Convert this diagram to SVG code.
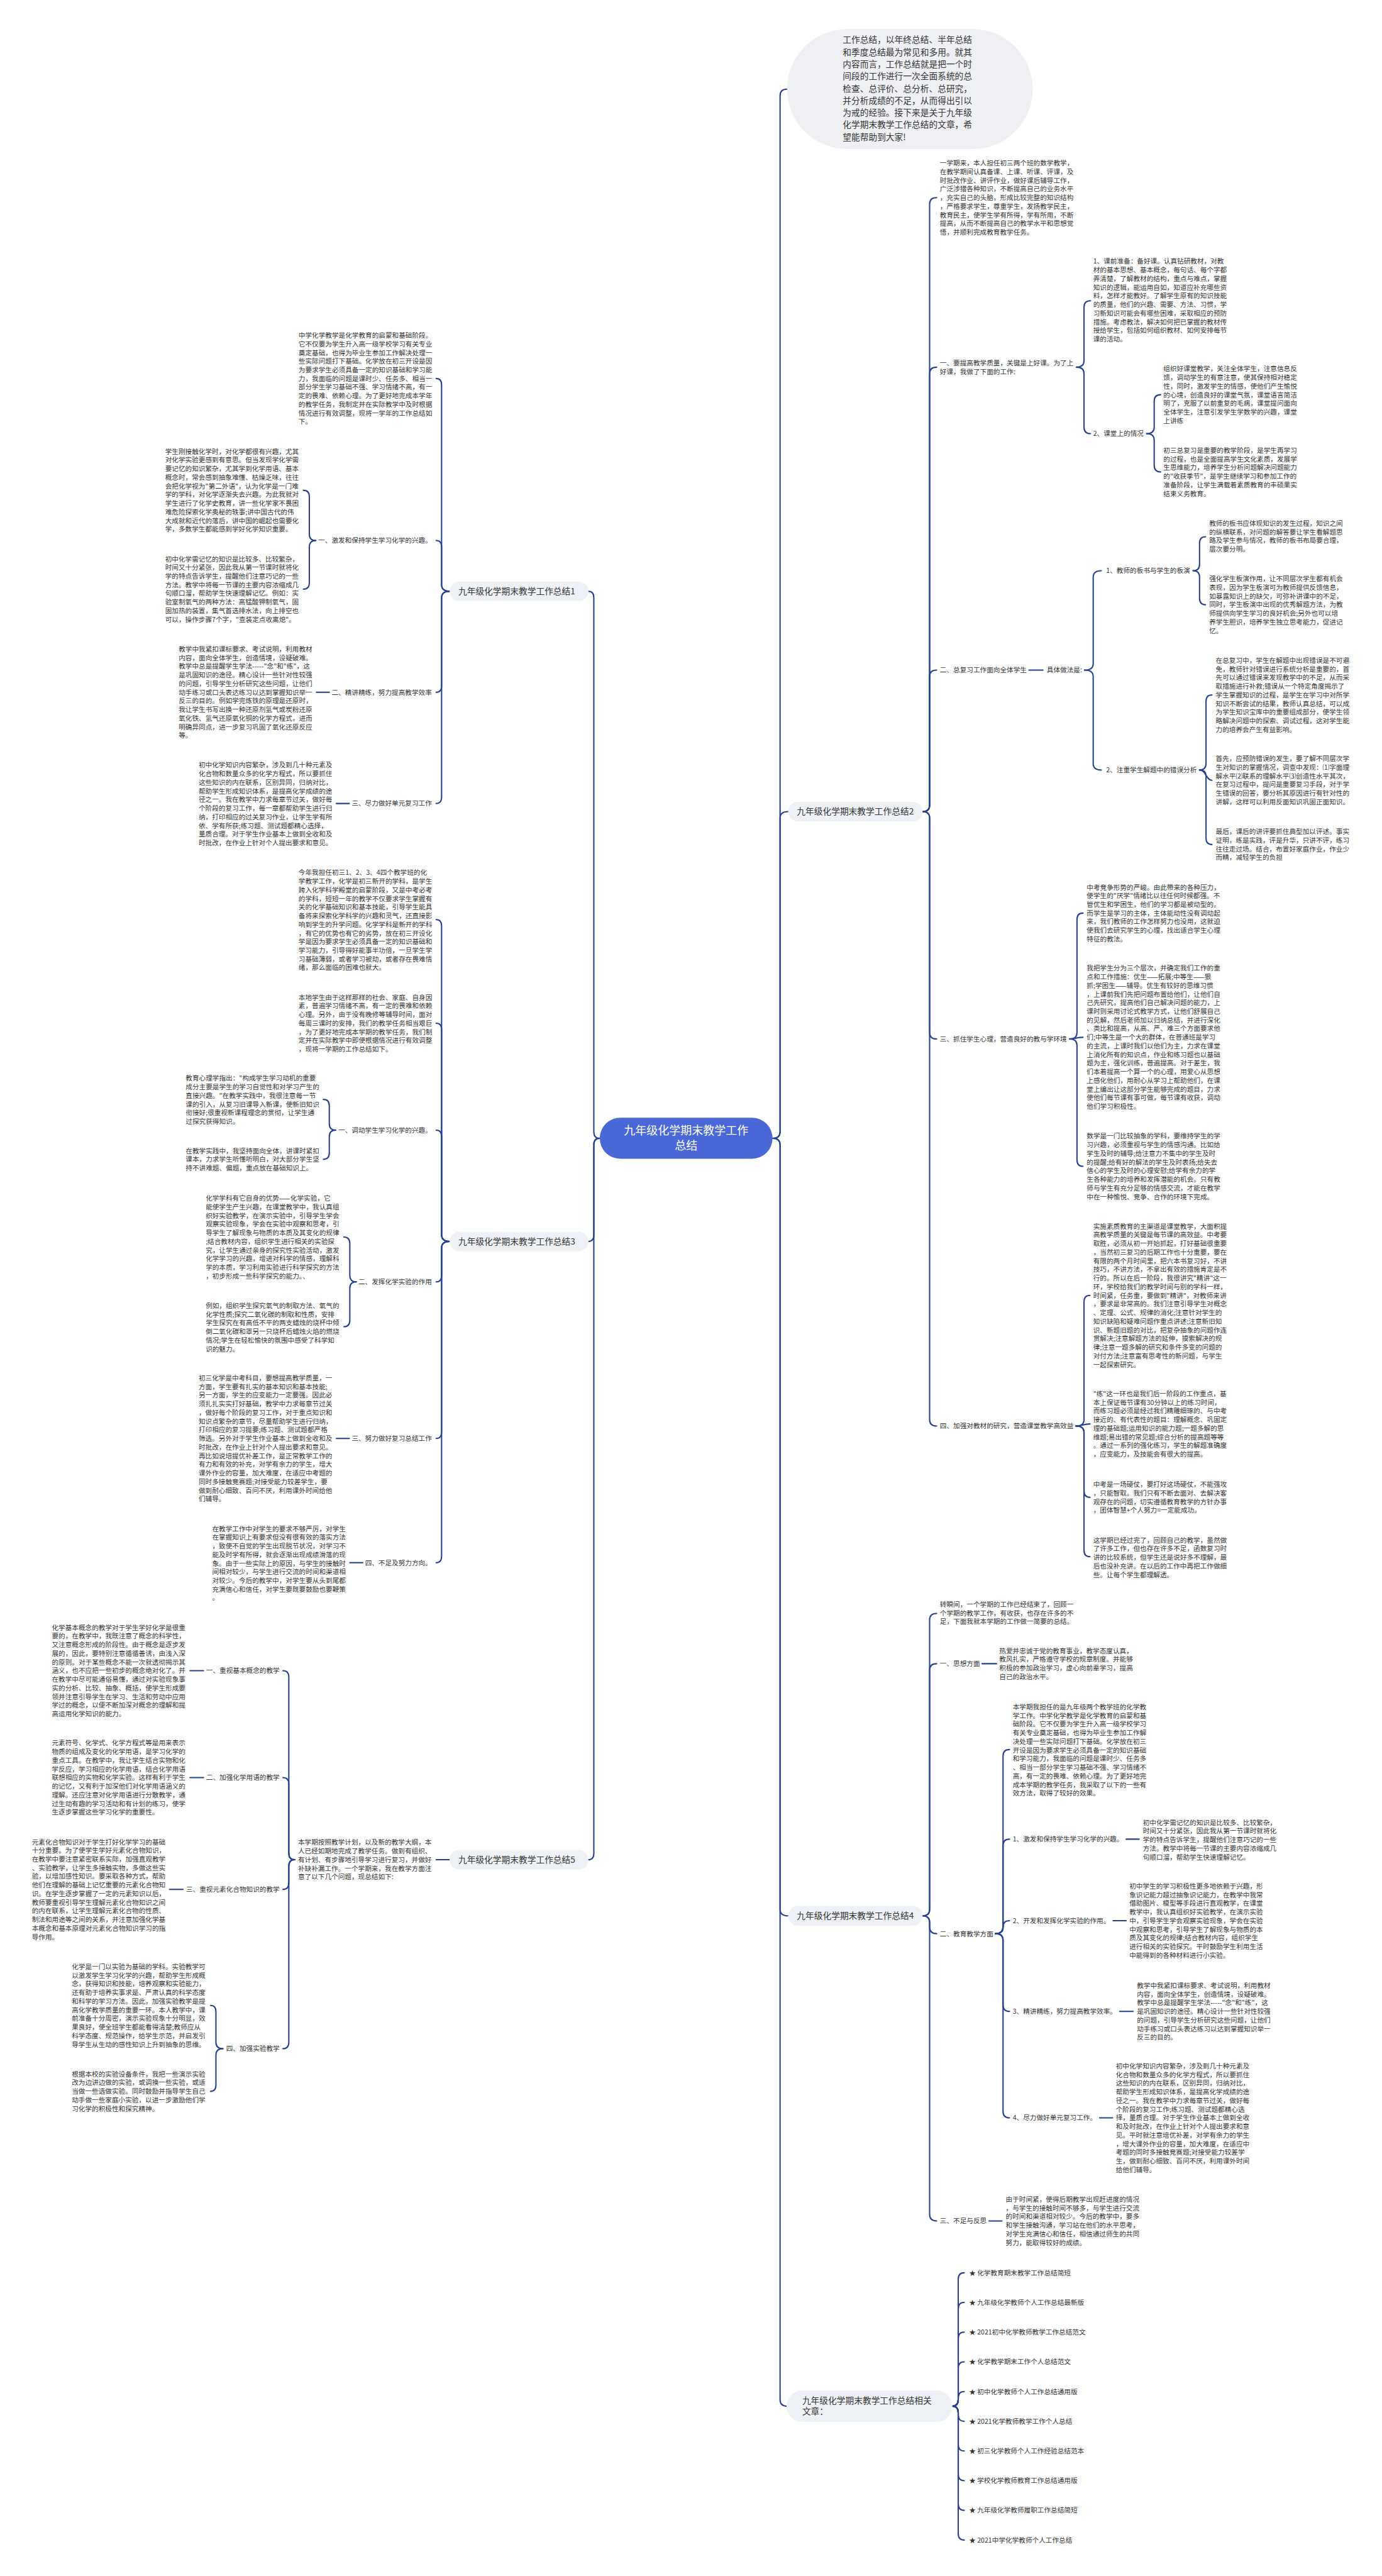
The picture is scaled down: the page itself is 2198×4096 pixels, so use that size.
<svg xmlns="http://www.w3.org/2000/svg" width="2198" height="4096" viewBox="0 0 2198 4096">
<style>
.t{font-family:"Noto Sans CJK SC","Liberation Sans",sans-serif;font-size:12.4px;fill:#333}
.lb{font-family:"Noto Sans CJK SC","Liberation Sans",sans-serif;font-size:16px;fill:#333}
.ct{font-family:"Noto Sans CJK SC","Liberation Sans",sans-serif;font-size:21px;fill:#fff}
.box{fill:#eef1f6}
.c path{fill:none;stroke:#25408f;stroke-width:2.4;stroke-linecap:round}
</style>
<rect width="2198" height="4096" fill="#fff"/>
<g transform="scale(0.8586)">
<g class="c" id="connectors">
<path d="M1111 2108 Q1100 2108 1100 2096 L1100 1107 Q1100 1095 1090 1095"/>
<path d="M1111 2108 Q1100 2108 1100 2120 L1100 2287 Q1100 2299 1090 2299"/>
<path d="M1111 2108 Q1100 2108 1100 2120 L1100 3432 Q1100 3444 1090 3444"/>
<path d="M1431 2108 Q1445 2108 1445 2096 L1445 177 Q1445 165 1458 165"/>
<path d="M1431 2108 Q1445 2108 1445 2096 L1445 1515 Q1445 1503 1460 1503"/>
<path d="M1431 2108 Q1445 2108 1445 2120 L1445 3536 Q1445 3548 1460 3548"/>
<path d="M1431 2108 Q1445 2108 1445 2120 L1445 4444 Q1445 4456 1457 4456"/>
<path d="M1709 1503 Q1722 1503 1722 1491 L1722 378 Q1722 366 1735 366"/>
<path d="M1709 1503 Q1722 1503 1722 1491 L1722 692 Q1722 680 1735 680"/>
<path d="M1709 1503 Q1722 1503 1722 1491 L1722 1253 Q1722 1241 1735 1241"/>
<path d="M1709 1503 Q1722 1503 1722 1515 L1722 1912 Q1722 1924 1735 1924"/>
<path d="M1709 1503 Q1722 1503 1722 1515 L1722 2629 Q1722 2641 1735 2641"/>
<path d="M1994 680 Q2008 680 2008 668 L2008 569 Q2008 557 2020 557"/>
<path d="M1994 680 Q2008 680 2008 692 L2008 791 Q2008 803 2020 803"/>
<path d="M2124 803 Q2138 803 2138 791 L2138 743 Q2138 731 2150 731"/>
<path d="M2124 803 Q2138 803 2138 815 L2138 862 Q2138 874 2150 874"/>
<path d="M1906 1241 L1932 1241"/>
<path d="M2009 1241 Q2025 1241 2025 1229 L2025 1069 Q2025 1057 2040 1057"/>
<path d="M2009 1241 Q2025 1241 2025 1253 L2025 1414 Q2025 1426 2040 1426"/>
<path d="M2210 1057 Q2222 1057 2222 1045 L2222 1006 Q2222 994 2233 994"/>
<path d="M2210 1057 Q2222 1057 2222 1069 L2222 1108 Q2222 1120 2233 1120"/>
<path d="M2222 1426 Q2234 1426 2234 1414 L2234 1299 Q2234 1287 2245 1287"/>
<path d="M2222 1426 C2234 1426 2234 1445 2245 1445"/>
<path d="M2222 1426 Q2234 1426 2234 1438 L2234 1552 Q2234 1564 2245 1564"/>
<path d="M1981 1924 Q1995 1924 1995 1912 L1995 1703 Q1995 1691 2006 1691"/>
<path d="M1981 1924 C1994 1924 1994 1921 2006 1921"/>
<path d="M1981 1924 Q1995 1924 1995 1936 L1995 2148 Q1995 2160 2006 2160"/>
<path d="M1993 2641 Q2008 2641 2008 2629 L2008 2411 Q2008 2399 2019 2399"/>
<path d="M1993 2641 C2006 2641 2006 2637 2019 2637"/>
<path d="M1993 2641 Q2008 2641 2008 2653 L2008 2761 Q2008 2773 2019 2773"/>
<path d="M1993 2641 Q2008 2641 2008 2653 L2008 2871 Q2008 2883 2019 2883"/>
<path d="M1709 3548 Q1722 3548 1722 3536 L1722 3000 Q1722 2988 1735 2988"/>
<path d="M1709 3548 Q1722 3548 1722 3536 L1722 3093 Q1722 3081 1735 3081"/>
<path d="M1709 3548 Q1722 3548 1722 3560 L1722 3569 Q1722 3581 1735 3581"/>
<path d="M1709 3548 Q1722 3548 1722 3560 L1722 4101 Q1722 4113 1735 4113"/>
<path d="M1819 3081 L1846 3081"/>
<path d="M1844 3581 Q1858 3581 1858 3569 L1858 3252 Q1858 3240 1870 3240"/>
<path d="M1844 3581 Q1858 3581 1858 3569 L1858 3418 Q1858 3406 1870 3406"/>
<path d="M1844 3581 Q1858 3581 1858 3569 Q1858 3557 1870 3557"/>
<path d="M1844 3581 Q1858 3581 1858 3593 L1858 3713 Q1858 3725 1870 3725"/>
<path d="M1844 3581 Q1858 3581 1858 3593 L1858 3910 Q1858 3922 1870 3922"/>
<path d="M2086 3406 L2110 3406"/>
<path d="M2062 3557 L2086 3557"/>
<path d="M2074 3725 L2099 3725"/>
<path d="M2037 3922 L2061 3922"/>
<path d="M1832 4113 L1856 4113"/>
<path d="M1764 4456 Q1775 4456 1775 4444 L1775 4221 Q1775 4209 1786 4209"/>
<path d="M1764 4456 Q1775 4456 1775 4444 L1775 4276 Q1775 4264 1786 4264"/>
<path d="M1764 4456 Q1775 4456 1775 4444 L1775 4331 Q1775 4319 1786 4319"/>
<path d="M1764 4456 Q1775 4456 1775 4444 L1775 4386 Q1775 4374 1786 4374"/>
<path d="M1764 4456 Q1775 4456 1775 4444 L1775 4441 Q1775 4429 1786 4429"/>
<path d="M1764 4456 Q1775 4456 1775 4468 L1775 4472 Q1775 4484 1786 4484"/>
<path d="M1764 4456 Q1775 4456 1775 4468 L1775 4527 Q1775 4539 1786 4539"/>
<path d="M1764 4456 Q1775 4456 1775 4468 L1775 4582 Q1775 4594 1786 4594"/>
<path d="M1764 4456 Q1775 4456 1775 4468 L1775 4637 Q1775 4649 1786 4649"/>
<path d="M1764 4456 Q1775 4456 1775 4468 L1775 4692 Q1775 4704 1786 4704"/>
<path d="M833 1095 Q818 1095 818 1083 L818 713 Q818 701 808 701"/>
<path d="M833 1095 Q818 1095 818 1083 L818 1013 Q818 1001 808 1001"/>
<path d="M833 1095 Q818 1095 818 1107 L818 1270 Q818 1282 808 1282"/>
<path d="M833 1095 Q818 1095 818 1107 L818 1476 Q818 1488 808 1488"/>
<path d="M585 1001 Q573 1001 573 989 L573 920 Q573 908 562 908"/>
<path d="M585 1001 Q573 1001 573 1013 L573 1079 Q573 1091 562 1091"/>
<path d="M610 1282 L586 1282"/>
<path d="M647 1488 L623 1488"/>
<path d="M833 2299 Q818 2299 818 2287 L818 1715 Q818 1703 808 1703"/>
<path d="M833 2299 Q818 2299 818 2287 L818 1907 Q818 1895 808 1895"/>
<path d="M833 2299 Q818 2299 818 2287 L818 2105 Q818 2093 808 2093"/>
<path d="M833 2299 Q818 2299 818 2311 L818 2362 Q818 2374 808 2374"/>
<path d="M833 2299 Q818 2299 818 2311 L818 2652 Q818 2664 808 2664"/>
<path d="M833 2299 Q818 2299 818 2311 L818 2882 Q818 2894 808 2894"/>
<path d="M622 2093 Q610 2093 610 2081 L610 2048 Q610 2036 599 2036"/>
<path d="M622 2093 Q610 2093 610 2105 L610 2135 Q610 2147 599 2147"/>
<path d="M660 2374 Q648 2374 648 2362 L648 2303 Q648 2291 637 2291"/>
<path d="M660 2374 Q648 2374 648 2386 L648 2445 Q648 2457 637 2457"/>
<path d="M647 2664 L623 2664"/>
<path d="M672 2894 L648 2894"/>
<path d="M833 3444 L808 3444"/>
<path d="M546 3444 Q535 3444 535 3432 L535 3106 Q535 3094 524 3094"/>
<path d="M546 3444 Q535 3444 535 3432 L535 3304 Q535 3292 524 3292"/>
<path d="M546 3444 Q535 3444 535 3456 L535 3487 Q535 3499 524 3499"/>
<path d="M546 3444 Q535 3444 535 3456 L535 3782 Q535 3794 524 3794"/>
<path d="M377 3094 L352 3094"/>
<path d="M377 3292 L352 3292"/>
<path d="M339 3499 L314 3499"/>
<path d="M413 3794 Q400 3794 400 3782 L400 3726 Q400 3714 390 3714"/>
<path d="M413 3794 Q400 3794 400 3806 L400 3861 Q400 3873 390 3873"/>
</g>

<g id="center">
<rect x="1111" y="2070" width="320" height="76" rx="38" fill="#4a67d8"/>
<text class="ct" x="1271" y="2101" text-anchor="middle">九年级化学期末教学工作</text>
<text class="ct" x="1271" y="2129" text-anchor="middle">总结</text>
</g>

<g id="intro">
<rect x="1458" y="54" width="455" height="222" rx="111" fill="#eef0f4"/>
<text class="lb" x="1561" y="79.5"><tspan x="1561">工作总结，以年终总结、半年总结</tspan><tspan x="1561" dy="22.5">和季度总结最为常见和多用。就其</tspan><tspan x="1561" dy="22.5">内容而言，工作总结就是把一个时</tspan><tspan x="1561" dy="22.5">间段的工作进行一次全面系统的总</tspan><tspan x="1561" dy="22.5">检查、总评价、总分析、总研究，</tspan><tspan x="1561" dy="22.5">并分析成绩的不足，从而得出引以</tspan><tspan x="1561" dy="22.5">为戒的经验。接下来是关于九年级</tspan><tspan x="1561" dy="22.5">化学期末教学工作总结的文章，希</tspan><tspan x="1561" dy="22.5">望能帮助到大家!</tspan></text>
</g>

<g id="b1">
<rect class="box" x="833" y="1077" width="257" height="36" rx="18"/>
<text class="lb" x="849" y="1100.5">九年级化学期末教学工作总结1</text>
</g>
<g id="b1-intro"><text class="t" x="553" y="625.5"><tspan x="553">中学化学教学是化学教育的启蒙和基础阶段。</tspan><tspan x="553" dy="16">它不仅要为学生升入高一级学校学习有关专业</tspan><tspan x="553" dy="16">奠定基础，也得为毕业生参加工作解决处理一</tspan><tspan x="553" dy="16">些实际问题打下基础。化学放在初三开设是因</tspan><tspan x="553" dy="16">为要求学生必须具备一定的知识基础和学习能</tspan><tspan x="553" dy="16">力，我面临的问题是课时少、任务多、相当一</tspan><tspan x="553" dy="16">部分学生学习基础不强、学习情绪不高，有一</tspan><tspan x="553" dy="16">定的畏难、依赖心理。为了更好地完成本学年</tspan><tspan x="553" dy="16">的教学任务，我制定并在实际教学中及时根据</tspan><tspan x="553" dy="16">情况进行有效调整，现将一学年的工作总结如</tspan><tspan x="553" dy="16">下。</tspan></text></g>
<g id="b1-1"><text class="t" x="800" y="1005.5" text-anchor="end">一、激发和保持学生学习化学的兴趣。</text></g>
<g id="b1-1a"><text class="t" x="306" y="840.5"><tspan x="306">学生刚接触化学时，对化学都很有兴趣，尤其</tspan><tspan x="306" dy="16">对化学实验更感到有意思。但当发现学化学需</tspan><tspan x="306" dy="16">要记忆的知识繁杂，尤其学到化学用语、基本</tspan><tspan x="306" dy="16">概念时，常会感到抽象难懂、枯燥乏味，往往</tspan><tspan x="306" dy="16">会把化学视为"第二外语"，认为化学是一门难</tspan><tspan x="306" dy="16">学的学科，对化学逐渐失去兴趣。为此我就对</tspan><tspan x="306" dy="16">学生进行了化学史教育，讲一些化学家不畏困</tspan><tspan x="306" dy="16">难危险探索化学奥秘的轶事;讲中国古代的伟</tspan><tspan x="306" dy="16">大成就和近代的落后，讲中国的崛起也需要化</tspan><tspan x="306" dy="16">学，多数学生都能感到学好化学知识重要。</tspan></text></g>
<g id="b1-1b"><text class="t" x="306" y="1039.5"><tspan x="306">初中化学需记忆的知识是比较多、比较繁杂，</tspan><tspan x="306" dy="16">时间又十分紧张，因此我从第一节课时就将化</tspan><tspan x="306" dy="16">学的特点告诉学生，提醒他们注意巧记的一些</tspan><tspan x="306" dy="16">方法。教学中将每一节课的主要内容浓缩成几</tspan><tspan x="306" dy="16">句顺口溜，帮助学生快速理解记忆。例如：实</tspan><tspan x="306" dy="16">验室制氧气的两种方法：高锰酸钾制氧气，固</tspan><tspan x="306" dy="16">固加热的装置，集气首选排水法，向上排空也</tspan><tspan x="306" dy="16">可以，操作步骤7个字，"查装定点收离熄"。</tspan></text></g>
<g id="b1-2"><text class="t" x="800" y="1286.5" text-anchor="end">二、精讲精练，努力提高教学效率</text></g>
<g id="b1-2a"><text class="t" x="331" y="1206.5"><tspan x="331">教学中我紧扣课标要求、考试说明，利用教材</tspan><tspan x="331" dy="16">内容，面向全体学生，创造情境，设疑破难。</tspan><tspan x="331" dy="16">教学中总是提醒学生学法-----"念"和"练"，这</tspan><tspan x="331" dy="16">是巩固知识的途径。精心设计一些针对性较强</tspan><tspan x="331" dy="16">的问题，引导学生分析研究这些问题，让他们</tspan><tspan x="331" dy="16">动手练习或口头表达练习以达到掌握知识举一</tspan><tspan x="331" dy="16">反三的目的。例如学完炼铁的原理是还原时，</tspan><tspan x="331" dy="16">我让学生书写出换一种还原剂氢气或炭粉还原</tspan><tspan x="331" dy="16">氧化铁、氢气还原氧化铜的化学方程式，进而</tspan><tspan x="331" dy="16">明确异同点，进一步复习巩固了氧化还原反应</tspan><tspan x="331" dy="16">等。</tspan></text></g>
<g id="b1-3"><text class="t" x="800" y="1492.5" text-anchor="end">三、尽力做好单元复习工作</text></g>
<g id="b1-3a"><text class="t" x="368" y="1421.5"><tspan x="368">初中化学知识内容繁杂，涉及到几十种元素及</tspan><tspan x="368" dy="16">化合物和数量众多的化学方程式，所以要抓住</tspan><tspan x="368" dy="16">这些知识的内在联系，区别异同，归纳对比，</tspan><tspan x="368" dy="16">帮助学生形成知识体系，是提高化学成绩的途</tspan><tspan x="368" dy="16">径之一。我在教学中力求每章节过关，做好每</tspan><tspan x="368" dy="16">个阶段的复习工作，每一章都帮助学生进行归</tspan><tspan x="368" dy="16">纳，打印相应的过关复习作业，让学生学有所</tspan><tspan x="368" dy="16">依、学有所获;练习题、测试题都精心选择，</tspan><tspan x="368" dy="16">量质合理。对于学生作业基本上做到全收和及</tspan><tspan x="368" dy="16">时批改，在作业上针对个人提出要求和意见。</tspan></text></g>

<g id="b3">
<rect class="box" x="833" y="2281" width="257" height="36" rx="18"/>
<text class="lb" x="849" y="2304.5">九年级化学期末教学工作总结3</text>
</g>
<g id="b3-i1"><text class="t" x="553" y="1620.5"><tspan x="553">今年我担任初三1、2、3、4四个教学班的化</tspan><tspan x="553" dy="16">学教学工作，化学是初三新开的学科，是学生</tspan><tspan x="553" dy="16">跨入化学科学殿堂的启蒙阶段，又是中考必考</tspan><tspan x="553" dy="16">的学科，短短一年的教学不仅要求学生掌握有</tspan><tspan x="553" dy="16">关的化学基础知识和基本技能，引导学生能具</tspan><tspan x="553" dy="16">备将来探索化学科学的兴趣和灵气，还直接影</tspan><tspan x="553" dy="16">响到学生的升学问题。化学学科是新开的学科</tspan><tspan x="553" dy="16">，有它的优势也有它的劣势，放在初三开设化</tspan><tspan x="553" dy="16">学是因为要求学生必须具备一定的知识基础和</tspan><tspan x="553" dy="16">学习能力，引导得好能事半功倍，一旦学生学</tspan><tspan x="553" dy="16">习基础薄弱，或者学习被动，或者存在畏难情</tspan><tspan x="553" dy="16">绪，那么面临的困难也就大。</tspan></text></g>
<g id="b3-i2"><text class="t" x="553" y="1851.5"><tspan x="553">本地学生由于这样那样的社会、家庭、自身因</tspan><tspan x="553" dy="16">素，普遍学习情绪不高，有一定的畏难和依赖</tspan><tspan x="553" dy="16">心理。另外，由于没有晚修等辅导时间，面对</tspan><tspan x="553" dy="16">每周三课时的安排，我们的教学任务相当艰巨</tspan><tspan x="553" dy="16">，为了更好地完成本学期的教学任务，我们制</tspan><tspan x="553" dy="16">定并在实际教学中即使根据情况进行有效调整</tspan><tspan x="553" dy="16">，现将一学期的工作总结如下。</tspan></text></g>
<g id="b3-1"><text class="t" x="800" y="2097.5" text-anchor="end">一、调动学生学习化学的兴趣。</text></g>
<g id="b3-1a"><text class="t" x="344" y="2001.5"><tspan x="344">教育心理学指出："构成学生学习动机的重要</tspan><tspan x="344" dy="16">成分主要是学生的学习自觉性和对学习产生的</tspan><tspan x="344" dy="16">直接兴趣。"在教学实践中，我很注意每一节</tspan><tspan x="344" dy="16">课的引入，从复习旧课导入新课，使新旧知识</tspan><tspan x="344" dy="16">衔接好;很重视新课程理念的贯彻，让学生通</tspan><tspan x="344" dy="16">过探究获得知识。</tspan></text></g>
<g id="b3-1b"><text class="t" x="344" y="2135.5"><tspan x="344">在教学实践中，我坚持面向全体，讲课时紧扣</tspan><tspan x="344" dy="16">课本，力求学生听懂听明白，对大部分学生坚</tspan><tspan x="344" dy="16">持不讲难题、偏题，重点放在基础知识上。</tspan></text></g>
<g id="b3-2"><text class="t" x="800" y="2378.5" text-anchor="end">二、发挥化学实验的作用</text></g>
<g id="b3-2a"><text class="t" x="381" y="2223.5"><tspan x="381">化学学科有它自身的优势——化学实验，它</tspan><tspan x="381" dy="16">能使学生产生兴趣，在课堂教学中，我认真组</tspan><tspan x="381" dy="16">织好实验教学，在演示实验中，引导学生学会</tspan><tspan x="381" dy="16">观察实验现象，学会在实验中观察和思考，引</tspan><tspan x="381" dy="16">导学生了解现象与物质的本质及其变化的规律</tspan><tspan x="381" dy="16">;结合教材内容，组织学生进行相关的实验探</tspan><tspan x="381" dy="16">究，让学生通过亲身的探究性实验活动，激发</tspan><tspan x="381" dy="16">化学学习的兴趣，增进对科学的情感，理解科</tspan><tspan x="381" dy="16">学的本质，学习利用实验进行科学探究的方法</tspan><tspan x="381" dy="16">，初步形成一些科学探究的能力。、</tspan></text></g>
<g id="b3-2b"><text class="t" x="381" y="2422.5"><tspan x="381">例如，组织学生探究氧气的制取方法、氧气的</tspan><tspan x="381" dy="16">化学性质;探究二氧化碳的制取和性质，安排</tspan><tspan x="381" dy="16">学生探究在有高低不平的两支蜡烛的烧杯中倾</tspan><tspan x="381" dy="16">倒二氧化碳和罩另一只烧杯后蜡烛火焰的燃烧</tspan><tspan x="381" dy="16">情况;学生在轻松愉快的氛围中感受了科学知</tspan><tspan x="381" dy="16">识的魅力。</tspan></text></g>
<g id="b3-3"><text class="t" x="800" y="2668.5" text-anchor="end">三、努力做好复习总结工作</text></g>
<g id="b3-3a"><text class="t" x="368" y="2556.5"><tspan x="368">初三化学是中考科目，要想提高教学质量，一</tspan><tspan x="368" dy="16">方面，学生要有扎实的基本知识和基本技能;</tspan><tspan x="368" dy="16">另一方面，学生的应变能力一定要强。因此必</tspan><tspan x="368" dy="16">须扎扎实实打好基础，教学中力求每章节过关</tspan><tspan x="368" dy="16">，做好每个阶段的复习工作，对于重点知识和</tspan><tspan x="368" dy="16">知识点繁杂的章节，尽量帮助学生进行归纳，</tspan><tspan x="368" dy="16">打印相应的复习提要;练习题、测试题都严格</tspan><tspan x="368" dy="16">筛选。另外对于学生作业基本上做到全收和及</tspan><tspan x="368" dy="16">时批改，在作业上针对个人提出要求和意见。</tspan><tspan x="368" dy="16">再比如说培提优补差工作，是正常教学工作的</tspan><tspan x="368" dy="16">有力和有效的补充，对学有余力的学生，增大</tspan><tspan x="368" dy="16">课外作业的容量，加大难度，在适应中考题的</tspan><tspan x="368" dy="16">同时多接触竞赛题;对接受能力较差学生，要</tspan><tspan x="368" dy="16">做到耐心细致、百问不厌，利用课外时间给他</tspan><tspan x="368" dy="16">们辅导。</tspan></text></g>
<g id="b3-4"><text class="t" x="800" y="2898.5" text-anchor="end">四、不足及努力方向。</text></g>
<g id="b3-4a"><text class="t" x="393" y="2835.5"><tspan x="393">在教学工作中对学生的要求不够严厉，对学生</tspan><tspan x="393" dy="16">在掌握知识上有要求但没有很有效的落实方法</tspan><tspan x="393" dy="16">，致使不自觉的学生出现脱节状况，对学习不</tspan><tspan x="393" dy="16">能及时学有所得，就会逐渐出现成绩滑落的现</tspan><tspan x="393" dy="16">象。由于一些实际上的原因，与学生的接触时</tspan><tspan x="393" dy="16">间相对较少，与学生进行交流的时间和渠道相</tspan><tspan x="393" dy="16">对较少。今后的教学中，对学生要从头到尾都</tspan><tspan x="393" dy="16">充满信心和信任，对学生要既要鼓励也要鞭策</tspan><tspan x="393" dy="16">。</tspan></text></g>

<g id="b5">
<rect class="box" x="833" y="3426" width="257" height="36" rx="18"/>
<text class="lb" x="849" y="3449.5">九年级化学期末教学工作总结5</text>
</g>
<g id="b5-i"><text class="t" x="552" y="3416.5"><tspan x="552">本学期按照教学计划，以及新的教学大纲，本</tspan><tspan x="552" dy="16">人已经如期地完成了教学任务。做到有组织、</tspan><tspan x="552" dy="16">有计划、有步骤地引导学习进行复习，并做好</tspan><tspan x="552" dy="16">补缺补漏工作。一个学期来，我在教学方面注</tspan><tspan x="552" dy="16">意了以下几个问题，现总结如下:</tspan></text></g>
<g id="b5-1"><text class="t" x="518" y="3098.5" text-anchor="end">一、重视基本概念的教学</text></g>
<g id="b5-1a"><text class="t" x="96" y="3018.5"><tspan x="96">化学基本概念的教学对于学生学好化学是很重</tspan><tspan x="96" dy="16">要的，在教学中，我既注意了概念的科学性，</tspan><tspan x="96" dy="16">又注意概念形成的阶段性。由于概念是逐步发</tspan><tspan x="96" dy="16">展的，因此，要特别注意循循善诱，由浅入深</tspan><tspan x="96" dy="16">的原则。对于某些概念不能一次就透彻揭示其</tspan><tspan x="96" dy="16">涵义，也不应把一些初步的概念绝对化了。并</tspan><tspan x="96" dy="16">在教学中尽可能通俗易懂，通过对实验现象事</tspan><tspan x="96" dy="16">实的分析、比较、抽象、概括，使学生形成要</tspan><tspan x="96" dy="16">领并注意引导学生在学习、生活和劳动中应用</tspan><tspan x="96" dy="16">学过的概念，以便不断加深对概念的理解和提</tspan><tspan x="96" dy="16">高运用化学知识的能力。</tspan></text></g>
<g id="b5-2"><text class="t" x="518" y="3296.5" text-anchor="end">二、加强化学用语的教学</text></g>
<g id="b5-2a"><text class="t" x="96" y="3232.5"><tspan x="96">元素符号、化学式、化学方程式等是用来表示</tspan><tspan x="96" dy="16">物质的组成及变化的化学用语，是学习化学的</tspan><tspan x="96" dy="16">重点工具。在教学中，我让学生结合实物和化</tspan><tspan x="96" dy="16">学反应，学习相应的化学用语，结合化学用语</tspan><tspan x="96" dy="16">联想相应的实物和化学实验。这样有利于学生</tspan><tspan x="96" dy="16">的记忆，又有利于加深他们对化学用语涵义的</tspan><tspan x="96" dy="16">理解。还应注意对化学用语进行分散教学，通</tspan><tspan x="96" dy="16">过生动有趣的学习活动和有计划的练习，使学</tspan><tspan x="96" dy="16">生逐步掌握这些学习化学的重要性。</tspan></text></g>
<g id="b5-3"><text class="t" x="518" y="3503.5" text-anchor="end">三、重视元素化合物知识的教学</text></g>
<g id="b5-3a"><text class="t" x="59" y="3415.5"><tspan x="59">元素化合物知识对于学生打好化学学习的基础</tspan><tspan x="59" dy="16">十分重要。为了使学生学好元素化合物知识，</tspan><tspan x="59" dy="16">在教学中要注意紧密联系实际，加强直观教学</tspan><tspan x="59" dy="16">、实验教学，让学生多接触实物，多做这些实</tspan><tspan x="59" dy="16">验，以增加感性知识。要采取各种方式，帮助</tspan><tspan x="59" dy="16">他们在理解的基础上记忆重要的元素化合物知</tspan><tspan x="59" dy="16">识。在学生逐步掌握了一定的元素知识以后，</tspan><tspan x="59" dy="16">教师要重视引导学生理解元素化合物知识之间</tspan><tspan x="59" dy="16">的内在联系，让学生理解元素化合物的性质、</tspan><tspan x="59" dy="16">制法和用途等之间的关系，并注意加强化学基</tspan><tspan x="59" dy="16">本概念和基本原理对元素化合物知识学习的指</tspan><tspan x="59" dy="16">导作用。</tspan></text></g>
<g id="b5-4"><text class="t" x="518" y="3798.5" text-anchor="end">四、加强实验教学</text></g>
<g id="b5-4a"><text class="t" x="133" y="3646.5"><tspan x="133">化学是一门以实验为基础的学科。实验教学可</tspan><tspan x="133" dy="16">以激发学生学习化学的兴趣，帮助学生形成概</tspan><tspan x="133" dy="16">念，获得知识和技能，培养观察和实验能力，</tspan><tspan x="133" dy="16">还有助于培养实事求是、严肃认真的科学态度</tspan><tspan x="133" dy="16">和科学的学习方法。因此，加强实验教学是提</tspan><tspan x="133" dy="16">高化学教学质量的重要一环。本人教学中，课</tspan><tspan x="133" dy="16">前准备十分周密，演示实验现象十分明显，效</tspan><tspan x="133" dy="16">果良好，使全班学生都能看得清楚;教师应从</tspan><tspan x="133" dy="16">科学态度、规范操作，给学生示范，并启发引</tspan><tspan x="133" dy="16">导学生从生动的感性知识上升到抽象的思维。</tspan></text></g>
<g id="b5-4b"><text class="t" x="133" y="3845.5"><tspan x="133">根据本校的实验设备条件，我把一些演示实验</tspan><tspan x="133" dy="16">改为边讲边做的实验，或调换一些实验，或适</tspan><tspan x="133" dy="16">当做一些选做实验。同时鼓励并指导学生自己</tspan><tspan x="133" dy="16">动手做一些家庭小实验，以进一步激励他们学</tspan><tspan x="133" dy="16">习化学的积极性和探究精神。</tspan></text></g>

<g id="b2">
<rect class="box" x="1460" y="1485" width="249" height="36" rx="18"/>
<text class="lb" x="1476" y="1508.5">九年级化学期末教学工作总结2</text>
</g>
<g id="b2-i"><text class="t" x="1741" y="306.5"><tspan x="1741">一学期来，本人担任初三两个班的数学教学，</tspan><tspan x="1741" dy="16">在教学期间认真备课、上课、听课、评课，及</tspan><tspan x="1741" dy="16">时批改作业、讲评作业，做好课后辅导工作，</tspan><tspan x="1741" dy="16">广泛涉猎各种知识，不断提高自己的业务水平</tspan><tspan x="1741" dy="16">，充实自己的头脑，形成比较完整的知识结构</tspan><tspan x="1741" dy="16">，严格要求学生，尊重学生，发扬教学民主，</tspan><tspan x="1741" dy="16">教育民主，使学生学有所得，学有所用，不断</tspan><tspan x="1741" dy="16">提高，从而不断提高自己的教学水平和思想觉</tspan><tspan x="1741" dy="16">悟，并顺利完成教育教学任务。</tspan></text></g>
<g id="b2-1"><text class="t" x="1741" y="676.5"><tspan x="1741">一、要提高教学质量，关键是上好课。为了上</tspan><tspan x="1741" dy="16">好课，我做了下面的工作:</tspan></text></g>
<g id="b2-1a"><text class="t" x="2025" y="488.5"><tspan x="2025">1、课前准备：备好课。认真钻研教材，对教</tspan><tspan x="2025" dy="16">材的基本思想、基本概念，每句话、每个字都</tspan><tspan x="2025" dy="16">弄清楚，了解教材的结构，重点与难点，掌握</tspan><tspan x="2025" dy="16">知识的逻辑，能运用自如，知道应补充哪些资</tspan><tspan x="2025" dy="16">料，怎样才能教好。了解学生原有的知识技能</tspan><tspan x="2025" dy="16">的质量，他们的兴趣、需要、方法、习惯，学</tspan><tspan x="2025" dy="16">习新知识可能会有哪些困难，采取相应的预防</tspan><tspan x="2025" dy="16">措施。考虑教法，解决如何把已掌握的教材传</tspan><tspan x="2025" dy="16">授给学生，包括如何组织教材、如何安排每节</tspan><tspan x="2025" dy="16">课的活动。</tspan></text></g>
<g id="b2-1b"><text class="t" x="2025" y="807.5">2、课堂上的情况</text></g>
<g id="b2-1b1"><text class="t" x="2155" y="687.5"><tspan x="2155">组织好课堂教学，关注全体学生，注意信息反</tspan><tspan x="2155" dy="16">馈，调动学生的有意注意，使其保持相对稳定</tspan><tspan x="2155" dy="16">性，同时，激发学生的情感，使他们产生愉悦</tspan><tspan x="2155" dy="16">的心境，创造良好的课堂气氛，课堂语言简洁</tspan><tspan x="2155" dy="16">明了，克服了以前重复的毛病，课堂提问面向</tspan><tspan x="2155" dy="16">全体学生，注意引发学生学数学的兴趣，课堂</tspan><tspan x="2155" dy="16">上讲练</tspan></text></g>
<g id="b2-1b2"><text class="t" x="2155" y="838.5"><tspan x="2155">初三总复习是重要的教学阶段，是学生再学习</tspan><tspan x="2155" dy="16">的过程，也是全面提高学生文化素质，发展学</tspan><tspan x="2155" dy="16">生思维能力，培养学生分析问题解决问题能力</tspan><tspan x="2155" dy="16">的"收获季节"，是学生继续学习和参加工作的</tspan><tspan x="2155" dy="16">准备阶段，让学生满载着素质教育的丰硕果实</tspan><tspan x="2155" dy="16">结束义务教育。</tspan></text></g>
<g id="b2-2"><text class="t" x="1741" y="1245.5">二、总复习工作面向全体学生</text></g>
<g id="b2-2x"><text class="t" x="1939" y="1245.5">具体做法是:</text></g>
<g id="b2-2a"><text class="t" x="2049" y="1061.5">1、教师的板书与学生的板演</text></g>
<g id="b2-2a1"><text class="t" x="2240" y="973.5"><tspan x="2240">教师的板书应体现知识的发生过程，知识之间</tspan><tspan x="2240" dy="16">的纵横联系，对问题的解答要让学生看解题思</tspan><tspan x="2240" dy="16">路及学生参与情况，教师的板书布局要合理，</tspan><tspan x="2240" dy="16">层次要分明。</tspan></text></g>
<g id="b2-2a2"><text class="t" x="2240" y="1076.5"><tspan x="2240">强化学生板演作用，让不同层次学生都有机会</tspan><tspan x="2240" dy="16">表现，因为学生板演可为教师提供反馈信息，</tspan><tspan x="2240" dy="16">如暴露知识上的缺欠，可弥补讲课中的不足，</tspan><tspan x="2240" dy="16">同时，学生板演中出现的优秀解题方法，为教</tspan><tspan x="2240" dy="16">师提供向学生学习的良好机会;另外也可以培</tspan><tspan x="2240" dy="16">养学生胆识，培养学生独立思考能力，促进记</tspan><tspan x="2240" dy="16">忆。</tspan></text></g>
<g id="b2-2b"><text class="t" x="2049" y="1430.5">2、注重学生解题中的错误分析</text></g>
<g id="b2-2b1"><text class="t" x="2252" y="1227.5"><tspan x="2252">在总复习中，学生在解题中出现错误是不可避</tspan><tspan x="2252" dy="16">免，教师针对错误进行系统分析是重要的，首</tspan><tspan x="2252" dy="16">先可以通过错误来发现教学中的不足，从而采</tspan><tspan x="2252" dy="16">取措施进行补救;错误从一个特定角度揭示了</tspan><tspan x="2252" dy="16">学生掌握知识的过程，是学生在学习中对所学</tspan><tspan x="2252" dy="16">知识不断尝试的结果，教师认真总结，可以成</tspan><tspan x="2252" dy="16">为学生知识宝库中的重要组成部分，使学生领</tspan><tspan x="2252" dy="16">略解决问题中的探索、调试过程，这对学生能</tspan><tspan x="2252" dy="16">力的培养会产生有益影响。</tspan></text></g>
<g id="b2-2b2"><text class="t" x="2252" y="1409.5"><tspan x="2252">首先，应预防错误的发生，要了解不同层次学</tspan><tspan x="2252" dy="16">生对知识的掌握情况，调查中发现：⑴字面理</tspan><tspan x="2252" dy="16">解水平⑵联系的理解水平⑶创造性水平其次，</tspan><tspan x="2252" dy="16">在复习过程中，提问是重要复习手段，对于学</tspan><tspan x="2252" dy="16">生错误的回答，要分析其原因进行有针对性的</tspan><tspan x="2252" dy="16">讲解，这样可以利用反面知识巩固正面知识。</tspan></text></g>
<g id="b2-2b3"><text class="t" x="2252" y="1544.5"><tspan x="2252">最后，课后的讲评要抓住典型加以评述。事实</tspan><tspan x="2252" dy="16">证明，练是实践，评是升华，只讲不评，练习</tspan><tspan x="2252" dy="16">往往走过场。结合，布置好家庭作业，作业少</tspan><tspan x="2252" dy="16">而精，减轻学生的负担</tspan></text></g>
<g id="b2-3"><text class="t" x="1741" y="1928.5">三、抓住学生心理，营造良好的教与学环境</text></g>
<g id="b2-3a"><text class="t" x="2013" y="1647.5"><tspan x="2013">中考竞争形势的严峻。由此带来的各种压力，</tspan><tspan x="2013" dy="16">使学生的"厌学"情绪比以往任何时候都强。不</tspan><tspan x="2013" dy="16">管优生和学困生，他们的学习都是被动型的。</tspan><tspan x="2013" dy="16">而学生是学习的主体，主体能动性没有调动起</tspan><tspan x="2013" dy="16">来，我们教师的工作怎样努力也没用，这就迫</tspan><tspan x="2013" dy="16">使我们去研究学生的心理，找出适合学生心理</tspan><tspan x="2013" dy="16">特征的教法。</tspan></text></g>
<g id="b2-3b"><text class="t" x="2013" y="1797.5"><tspan x="2013">我把学生分为三个层次，并确定我们工作的重</tspan><tspan x="2013" dy="16">点和工作措施：优生——拓展;中等生——狠</tspan><tspan x="2013" dy="16">抓;学困生——辅导。优生有较好的思维习惯</tspan><tspan x="2013" dy="16">，上课前我们先把问题布置给他们，让他们自</tspan><tspan x="2013" dy="16">己先研究，提高他们自己解决问题的能力，上</tspan><tspan x="2013" dy="16">课时则采用讨论式教学方式，让他们舒展自己</tspan><tspan x="2013" dy="16">的见解，然后老师加以归纳总结，并进行深化</tspan><tspan x="2013" dy="16">、类比和提高，从高、严、难三个方面要求他</tspan><tspan x="2013" dy="16">们;中等生是一个大的群体，在普通班是学习</tspan><tspan x="2013" dy="16">的主流，上课时我们以他们为主，力求在课堂</tspan><tspan x="2013" dy="16">上消化所有的知识点，作业和练习题也以基础</tspan><tspan x="2013" dy="16">题为主，强化训练，普遍提高。对于差生，我</tspan><tspan x="2013" dy="16">们本着提高一个算一个的心理，用爱心从思想</tspan><tspan x="2013" dy="16">上感化他们，用耐心从学习上帮助他们，在课</tspan><tspan x="2013" dy="16">堂上编出让这部分学生能够完成的题目，力求</tspan><tspan x="2013" dy="16">使他们每节课有事可做，每节课有收获，调动</tspan><tspan x="2013" dy="16">他们学习积极性。</tspan></text></g>
<g id="b2-3c"><text class="t" x="2013" y="2108.5"><tspan x="2013">数学是一门比较抽象的学科，要维持学生的学</tspan><tspan x="2013" dy="16">习兴趣，必须重视与学生的情感沟通。比如给</tspan><tspan x="2013" dy="16">学生及时的辅导;给注意力不集中的学生及时</tspan><tspan x="2013" dy="16">的提醒;给有好的解法的学生及时表扬;给失去</tspan><tspan x="2013" dy="16">信心的学生及时的心理安慰;给学有余力的学</tspan><tspan x="2013" dy="16">生各种能力的培养和发挥潜能的机会。只有教</tspan><tspan x="2013" dy="16">师与学生有充分足够的情感交流，才能在教学</tspan><tspan x="2013" dy="16">中在一种愉悦、竞争、合作的环境下完成。</tspan></text></g>
<g id="b2-4"><text class="t" x="1741" y="2645.5">四、加强对教材的研究，营造课堂教学高效益</text></g>
<g id="b2-4a"><text class="t" x="2025" y="2275.5"><tspan x="2025">实施素质教育的主渠道是课堂教学，大面积提</tspan><tspan x="2025" dy="16">高教学质量的关键是每节课的高效益。中考要</tspan><tspan x="2025" dy="16">取胜，必须从初一开始抓起，打好基础很重要</tspan><tspan x="2025" dy="16">，当然初三复习的后期工作也十分重要，要在</tspan><tspan x="2025" dy="16">有限的两个月时间里，把六本书复习好，不讲</tspan><tspan x="2025" dy="16">技巧，不讲方法，不拿出有效的措施肯定是不</tspan><tspan x="2025" dy="16">行的。所以在后一阶段，我很讲究"精讲"这一</tspan><tspan x="2025" dy="16">环，学校给我们的教学时间与别的学科一样，</tspan><tspan x="2025" dy="16">时间紧，任务重，要做到"精讲"，对教师来讲</tspan><tspan x="2025" dy="16">，要求是非常高的。我们注意引导学生对概念</tspan><tspan x="2025" dy="16">、定理、公式、规律的消化;注意针对学生的</tspan><tspan x="2025" dy="16">知识缺陷和疑难问题作重点讲述;注意新旧知</tspan><tspan x="2025" dy="16">识、新题旧题的对比，把复杂抽象的问题作连</tspan><tspan x="2025" dy="16">贯解决;注意解题方法的延伸，摸索解决的规</tspan><tspan x="2025" dy="16">律;注意一题多解的研究和条件多变的问题的</tspan><tspan x="2025" dy="16">对付方法;注意富有思考性的新问题，与学生</tspan><tspan x="2025" dy="16">一起探索研究。</tspan></text></g>
<g id="b2-4b"><text class="t" x="2025" y="2585.5"><tspan x="2025">"练"这一环也是我们后一阶段的工作重点，基</tspan><tspan x="2025" dy="16">本上保证每节课有30分钟以上的练习时间，</tspan><tspan x="2025" dy="16">而练习题必须是经过我们精雕细琢的、与中考</tspan><tspan x="2025" dy="16">接近的、有代表性的题目：理解概念、巩固定</tspan><tspan x="2025" dy="16">理的基础题;运用知识的能力题;一题多解的思</tspan><tspan x="2025" dy="16">维题;易出错的常见题;综合分析的提高题等等</tspan><tspan x="2025" dy="16">。通过一系列的强化练习，学生的解题准确度</tspan><tspan x="2025" dy="16">，应变能力，及技能会有很大的提高。</tspan></text></g>
<g id="b2-4c"><text class="t" x="2025" y="2753.5"><tspan x="2025">中考是一场硬仗，要打好这场硬仗，不能强攻</tspan><tspan x="2025" dy="16">，只能智取。我们只有不断去面对、去解决客</tspan><tspan x="2025" dy="16">观存在的问题，切实遵循教育教学的方针办事</tspan><tspan x="2025" dy="16">，团体智慧+个人努力=一定能成功。</tspan></text></g>
<g id="b2-4d"><text class="t" x="2025" y="2856.5"><tspan x="2025">这学期已经过完了，回顾自己的教学，虽然做</tspan><tspan x="2025" dy="16">了许多工作，但也存在许多不足，函数复习时</tspan><tspan x="2025" dy="16">讲的比较系统，但学生还是说好多不理解，最</tspan><tspan x="2025" dy="16">后也没补充讲。在以后的工作中再把工作做细</tspan><tspan x="2025" dy="16">些。让每个学生都理解透。</tspan></text></g>

<g id="b4">
<rect class="box" x="1460" y="3530" width="249" height="36" rx="18"/>
<text class="lb" x="1476" y="3553.5">九年级化学期末教学工作总结4</text>
</g>
<g id="b4-i"><text class="t" x="1741" y="2975.5"><tspan x="1741">转瞬间，一个学期的工作已经结束了，回顾一</tspan><tspan x="1741" dy="16">个学期的教学工作，有收获，也存在许多的不</tspan><tspan x="1741" dy="16">足，下面我就本学期的工作做一简要的总结。</tspan></text></g>
<g id="b4-1"><text class="t" x="1741" y="3085.5">一、思想方面</text></g>
<g id="b4-1a"><text class="t" x="1851" y="3061.5"><tspan x="1851">热爱并忠诚于党的教育事业，教学态度认真，</tspan><tspan x="1851" dy="16">教风扎实，严格遵守学校的规章制度。并能够</tspan><tspan x="1851" dy="16">积极的参加政治学习，虚心向前辈学习，提高</tspan><tspan x="1851" dy="16">自己的政治水平。</tspan></text></g>
<g id="b4-2"><text class="t" x="1741" y="3585.5">二、教育教学方面</text></g>
<g id="b4-2i"><text class="t" x="1876" y="3165.5"><tspan x="1876">本学期我担任的是九年级两个教学班的化学教</tspan><tspan x="1876" dy="16">学工作。中学化学教学是化学教育的启蒙和基</tspan><tspan x="1876" dy="16">础阶段。它不仅要为学生升入高一级学校学习</tspan><tspan x="1876" dy="16">有关专业奠定基础，也得为毕业生参加工作解</tspan><tspan x="1876" dy="16">决处理一些实际问题打下基础。化学放在初三</tspan><tspan x="1876" dy="16">开设是因为要求学生必须具备一定的知识基础</tspan><tspan x="1876" dy="16">和学习能力，我面临的问题是课时少、任务多</tspan><tspan x="1876" dy="16">、相当一部分学生学习基础不强、学习情绪不</tspan><tspan x="1876" dy="16">高，有一定的畏难、依赖心理。为了更好地完</tspan><tspan x="1876" dy="16">成本学期的教学任务，我采取了以下的一些有</tspan><tspan x="1876" dy="16">效方法，取得了较好的效果。</tspan></text></g>
<g id="b4-2a"><text class="t" x="1876" y="3410.5">1、激发和保持学生学习化学的兴趣。</text></g>
<g id="b4-2a1"><text class="t" x="2117" y="3379.5"><tspan x="2117">初中化学需记忆的知识是比较多、比较繁杂，</tspan><tspan x="2117" dy="16">时间又十分紧张，因此我从第一节课时就将化</tspan><tspan x="2117" dy="16">学的特点告诉学生，提醒他们注意巧记的一些</tspan><tspan x="2117" dy="16">方法。教学中将每一节课的主要内容浓缩成几</tspan><tspan x="2117" dy="16">句顺口溜，帮助学生快速理解记忆。</tspan></text></g>
<g id="b4-2b"><text class="t" x="1876" y="3561.5">2、开发和发挥化学实验的作用。</text></g>
<g id="b4-2b1"><text class="t" x="2092" y="3497.5"><tspan x="2092">初中学生的学习积极性更多地依赖于兴趣，形</tspan><tspan x="2092" dy="16">象识记能力超过抽象识记能力，在教学中我常</tspan><tspan x="2092" dy="16">借助图片、模型等手段进行直观教学，在课堂</tspan><tspan x="2092" dy="16">教学中，我认真组织好实验教学，在演示实验</tspan><tspan x="2092" dy="16">中，引导学生学会观察实验现象，学会在实验</tspan><tspan x="2092" dy="16">中观察和思考，引导学生了解现象与物质的本</tspan><tspan x="2092" dy="16">质及其变化的规律;结合教材内容，组织学生</tspan><tspan x="2092" dy="16">进行相关的实验探究。平时鼓励学生利用生活</tspan><tspan x="2092" dy="16">中能得到的各种材料进行小实验。</tspan></text></g>
<g id="b4-2c"><text class="t" x="1876" y="3729.5">3、精讲精练，努力提高教学效率。</text></g>
<g id="b4-2c1"><text class="t" x="2106" y="3681.5"><tspan x="2106">教学中我紧扣课标要求、考试说明，利用教材</tspan><tspan x="2106" dy="16">内容，面向全体学生，创造情境，设疑破难。</tspan><tspan x="2106" dy="16">教学中总是提醒学生学法-----"念"和"练"，这</tspan><tspan x="2106" dy="16">是巩固知识的途径。精心设计一些针对性较强</tspan><tspan x="2106" dy="16">的问题，引导学生分析研究这些问题，让他们</tspan><tspan x="2106" dy="16">动手练习或口头表达练习以达到掌握知识举一</tspan><tspan x="2106" dy="16">反三的目的。</tspan></text></g>
<g id="b4-2d"><text class="t" x="1876" y="3926.5">4、尽力做好单元复习工作。</text></g>
<g id="b4-2d1"><text class="t" x="2067" y="3830.5"><tspan x="2067">初中化学知识内容繁杂，涉及到几十种元素及</tspan><tspan x="2067" dy="16">化合物和数量众多的化学方程式，所以要抓住</tspan><tspan x="2067" dy="16">这些知识的内在联系，区别异同，归纳对比，</tspan><tspan x="2067" dy="16">帮助学生形成知识体系，是提高化学成绩的途</tspan><tspan x="2067" dy="16">径之一。我在教学中力求每章节过关，做好每</tspan><tspan x="2067" dy="16">个阶段的复习工作;练习题、测试题都精心选</tspan><tspan x="2067" dy="16">择，量质合理。对于学生作业基本上做到全收</tspan><tspan x="2067" dy="16">和及时批改，在作业上针对个人提出要求和意</tspan><tspan x="2067" dy="16">见。平时就注意培优补差，对学有余力的学生</tspan><tspan x="2067" dy="16">，增大课外作业的容量，加大难度，在适应中</tspan><tspan x="2067" dy="16">考题的同时多接触竞赛题;对接受能力较差学</tspan><tspan x="2067" dy="16">生，做到耐心细致、百问不厌，利用课外时间</tspan><tspan x="2067" dy="16">给他们辅导。</tspan></text></g>
<g id="b4-3"><text class="t" x="1741" y="4117.5">三、不足与反思</text></g>
<g id="b4-3a"><text class="t" x="1863" y="4077.5"><tspan x="1863">由于时间紧，使得后期教学出现赶进度的情况</tspan><tspan x="1863" dy="16">，与学生的接触时间不够多，与学生进行交流</tspan><tspan x="1863" dy="16">的时间和渠道相对较少。今后的教学中，要多</tspan><tspan x="1863" dy="16">和学生接触沟通，学习站在他们的水平思考，</tspan><tspan x="1863" dy="16">对学生充满信心和信任，相信通过师生的共同</tspan><tspan x="1863" dy="16">努力，能取得较好的成绩。</tspan></text></g>

<g id="b6">
<rect class="box" x="1457" y="4427" width="307" height="58" rx="29"/>
<text class="lb" x="1486" y="4451.5"><tspan x="1486">九年级化学期末教学工作总结相关</tspan><tspan x="1486" dy="20">文章：</tspan></text>
</g>
<g id="b6-items">
<text class="t" x="1795" y="4213.5">★ 化学教育期末教学工作总结简短</text>
<text class="t" x="1795" y="4268.5">★ 九年级化学教师个人工作总结最新版</text>
<text class="t" x="1795" y="4323.5">★ 2021初中化学教师教学工作总结范文</text>
<text class="t" x="1795" y="4378.5">★ 化学教学期末工作个人总结范文</text>
<text class="t" x="1795" y="4433.5">★ 初中化学教师个人工作总结通用版</text>
<text class="t" x="1795" y="4488.5">★ 2021化学教师教学工作个人总结</text>
<text class="t" x="1795" y="4543.5">★ 初三化学教师个人工作经验总结范本</text>
<text class="t" x="1795" y="4598.5">★ 学校化学教师教育工作总结通用版</text>
<text class="t" x="1795" y="4653.5">★ 九年级化学教师履职工作总结简短</text>
<text class="t" x="1795" y="4708.5">★ 2021中学化学教师个人工作总结</text>
</g>
</g>
</svg>
